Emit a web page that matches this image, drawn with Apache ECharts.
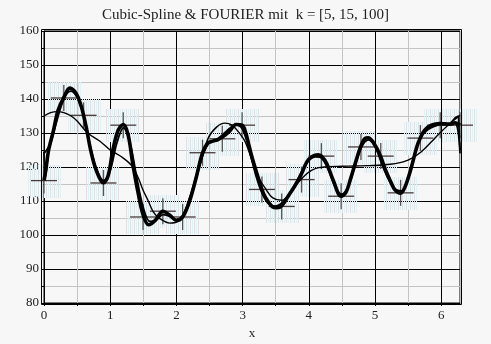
<!DOCTYPE html>
<html><head><meta charset="utf-8">
<script src="https://cdn.jsdelivr.net/npm/echarts@6/dist/echarts.min.js"></script>
<style>html,body{margin:0;padding:0;background:#f7f7f7}#c{width:491px;height:344px}</style>
</head><body><div id="c"></div>
<script>
// ---- data ----
const titleText = 'Cubic-Spline & FOURIER mit  k = [5, 15, 100]';
const dataX = [0, 0.299, 0.598, 0.898, 1.197, 1.496, 1.795, 2.094, 2.394, 2.693, 2.992, 3.291, 3.590, 3.890, 4.189, 4.488, 4.787, 5.086, 5.386, 5.685, 5.984, 6.283];
const dataY = [116, 140.3, 135.2, 115.3, 132.3, 105.3, 107, 105.3, 124.2, 128.3, 132.3, 113.4, 108.4, 116.3, 123.2, 111.4, 125.9, 123.2, 112.4, 128.5, 132.3, 132.3];

const splineCurve = [[0,116],[0.03,119.5],[0.07,125],[0.14,130.5],[0.21,136.5],[0.299,140.5],[0.39,143.2],[0.49,141.5],[0.56,138],[0.598,135.2],[0.64,131.5],[0.71,124.5],[0.79,119],[0.898,115.3],[0.97,117.5],[1.04,125],[1.12,130.8],[1.197,132.5],[1.27,129.5],[1.34,121],[1.42,112.5],[1.496,106],[1.58,103],[1.68,104.3],[1.795,107],[1.9,105.8],[2.0,104.3],[2.094,105.3],[2.2,110],[2.3,117],[2.394,124.2],[2.47,127],[2.55,127.6],[2.62,128],[2.693,128.8],[2.8,130.5],[2.9,132.5],[2.992,132.3],[3.04,130.5],[3.14,123],[3.24,116.5],[3.291,113.4],[3.34,111.2],[3.45,108.3],[3.52,108],[3.59,108.6],[3.69,111.5],[3.79,114.5],[3.89,118],[3.97,121.5],[4.05,123.1],[4.14,123.6],[4.189,123.2],[4.27,121],[4.37,116],[4.488,111.4],[4.56,112.5],[4.63,116.5],[4.7,121],[4.787,126.2],[4.85,128.4],[4.9,128.6],[5.0,126.4],[5.086,123],[5.15,119.5],[5.24,115.5],[5.3,113.3],[5.386,112.3],[5.45,114],[5.55,120],[5.63,125.9],[5.685,128.6],[5.75,130.8],[5.85,132.3],[5.984,132.8],[6.06,132.7],[6.13,132.6],[6.21,133],[6.283,132.3]];

const fourier5 = [[0,135],[0.1,136],[0.2,136.3],[0.3,136],[0.41,135],[0.5,133.5],[0.66,130],[0.85,127.5],[1.0,125],[1.17,123],[1.32,120.5],[1.42,117],[1.5,113],[1.57,110.2],[1.65,106.8],[1.75,104.8],[1.9,103.5],[2.05,104.3],[2.15,107],[2.25,113],[2.35,120],[2.48,128.5],[2.61,131.8],[2.73,132.9],[2.84,132.3],[2.95,130],[3.04,127.4],[3.14,122],[3.24,117],[3.35,113.5],[3.45,111],[3.59,110.2],[3.7,112],[3.8,114.5],[3.94,117.5],[4.04,119],[4.15,119.8],[4.3,120.1],[4.5,120.2],[4.7,120.3],[4.9,120.4],[5.1,120.6],[5.3,121],[5.5,122],[5.7,124.5],[5.9,128.4],[6.1,132.3],[6.283,135.2]];

const fourier15 = [[0,124],[0.05,125.3],[0.1,127],[0.2,134],[0.3,140],[0.4,142.3],[0.5,140.5],[0.6,135],[0.7,126],[0.8,119],[0.9,116],[1.0,119],[1.1,127],[1.2,131.5],[1.3,127],[1.4,117],[1.5,108],[1.6,104],[1.7,104.5],[1.8,106],[1.9,105.5],[2.0,104.5],[2.1,106],[2.2,111],[2.3,117.5],[2.4,123.5],[2.5,127.3],[2.6,128],[2.7,129.5],[2.8,131.3],[2.9,132.5],[3.0,131],[3.1,125],[3.2,117.5],[3.3,112],[3.4,109],[3.5,108.5],[3.6,109.5],[3.7,112],[3.8,115],[3.9,119],[4.0,122],[4.1,123],[4.2,122.5],[4.3,119],[4.4,114],[4.5,112],[4.6,114.5],[4.7,120.5],[4.8,126],[4.9,128],[5.0,126],[5.1,121],[5.2,116.5],[5.3,113.5],[5.4,113],[5.5,117],[5.6,124],[5.7,129],[5.8,131],[5.9,132],[6.0,132.5],[6.1,132.5],[6.2,133],[6.25,131],[6.283,124]];

const fourier100Start = [[0,124.5],[0.012,116.5],[0.03,118],[0.06,123.5]];
const fourier100End = [[6.13,132.6],[6.21,134.5],[6.26,135],[6.283,125]];

const xTicks = [0,1,2,3,4,5,6];
const yTicks = [80,90,100,110,120,130,140,150,160];

// ---- chart ----
const chart = echarts.init(document.getElementById('c'), null, {renderer:'canvas'});

// stripe pattern for boxes
const pc = document.createElement('canvas');
pc.width = 4; pc.height = 2;
const pctx = pc.getContext('2d');
pctx.fillStyle = 'rgb(212,247,251)'; pctx.fillRect(0,0,1,2);
pctx.fillStyle = 'rgb(224,224,230)'; pctx.fillRect(2,0,1,2);

const points = dataX.map((x,i)=>[x,dataY[i]]);
const serif = 'Liberation Serif, Times New Roman, serif';

function lineSeries(data, w, z){
  return {type:'line', data, showSymbol:false, smooth:0.35, z,
    lineStyle:{color:'#000', width:w}, silent:true, animation:false};
}

chart.setOption({
  backgroundColor:'#f7f7f7',
  animation:false,
  title:{text:titleText, left:'center', top:3,
    textStyle:{fontFamily:serif, fontSize:15, fontWeight:'normal', color:'#222'}},
  grid:{left:44, right:31, top:31, bottom:41, outerBoundsMode:'none', containLabel:false,
    show:true, borderColor:'#000', borderWidth:1, backgroundColor:'transparent'},
  xAxis:{type:'value', min:0, max:6.283, interval:0.5,
    name:'x', nameLocation:'middle', nameGap:24,
    nameTextStyle:{fontFamily:serif, fontSize:13, color:'#222'},
    axisLine:{show:true, onZero:false, lineStyle:{color:'#000', width:1}},
    axisTick:{show:true, length:3, lineStyle:{color:'#000'}},
    axisLabel:{margin:6, fontFamily:serif, fontSize:13, color:'#222', showMaxLabel:false,
      formatter:v=> xTicks.indexOf(Math.round(v*1000)/1000)>=0 ? String(Math.round(v)) : ''},
    splitLine:{show:true, lineStyle:{color:['#000','#c4c4c4'], width:1}}},
  yAxis:{type:'value', min:80, max:160, interval:5,
    axisLine:{show:true, onZero:false, lineStyle:{color:'#000', width:1}},
    axisTick:{show:true, length:3, lineStyle:{color:'#000'}},
    axisLabel:{margin:5, fontFamily:serif, fontSize:13, color:'#222',
      formatter:v=> yTicks.indexOf(v)>=0 ? String(v) : ''},
    splitLine:{show:true, lineStyle:{color:['#000','#c4c4c4'], width:1}}},
  series:[
    {type:'custom', data:points, z:1, silent:true, animation:false,
      renderItem:function(params, api){
        const p = api.coord([api.value(0), api.value(1)]);
        return {type:'group', children:[
          {type:'rect', shape:{x:Math.round(p[0])-17, y:Math.round(p[1])-16, width:34, height:33},
            style:{fill:{image:pc, repeat:'repeat'}}, z2:0},
          {type:'line', shape:{x1:p[0]-13, y1:p[1], x2:p[0]+13, y2:p[1]},
            style:{stroke:'#4a3c3c', lineWidth:1.3}, z2:2},
          {type:'line', shape:{x1:p[0], y1:p[1]-13, x2:p[0], y2:p[1]+13},
            style:{stroke:'#555', lineWidth:1.3}, z2:2}
        ]};
      }},
    lineSeries(fourier5, 1.4, 5),
    lineSeries(fourier15, 1.8, 5),
    lineSeries(splineCurve, 3.6, 6),
    Object.assign(lineSeries(fourier100Start, 1.8, 6), {smooth:false}),
    Object.assign(lineSeries(fourier100End, 1.8, 6), {smooth:false})
  ]
});

// outer frame, derived from axis scale (2px outside plot area)
const tl = chart.convertToPixel({gridIndex:0}, [0,160]);
const br = chart.convertToPixel({gridIndex:0}, [6.283,80]);
chart.setOption({graphic:[{type:'rect', silent:true, z:100,
  shape:{x:Math.round(tl[0])-2.5, y:Math.round(tl[1])-1.5, width:Math.round(br[0]-tl[0])+4, height:Math.round(br[1]-tl[1])+3},
  style:{fill:'none', stroke:'#000', lineWidth:1}}]});
</script>
</body></html>
